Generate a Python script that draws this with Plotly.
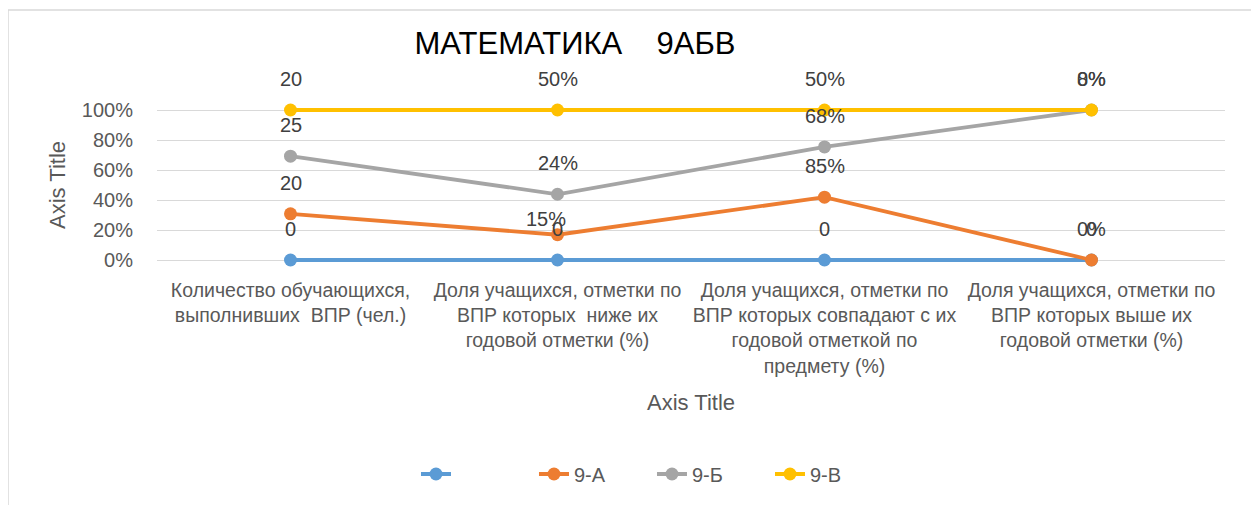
import numpy as np
import plotly.graph_objects as go

# ---------------- data ----------------
categories = [
    "Количество обучающихся,<br>выполнивших  ВПР (чел.)",
    "Доля учащихся, отметки по<br>ВПР которых  ниже их<br>годовой отметки (%)",
    "Доля учащихся, отметки по<br>ВПР которых совпадают с их<br>годовой отметкой по<br>предмету (%)",
    "Доля учащихся, отметки по<br>ВПР которых выше их<br>годовой отметки (%)",
]
series_names = ["", "9-А", "9-Б", "9-В"]
values_blank = [0, 0, 0, 0]
values_9a = [20, 15, 85, 0]
values_9b = [25, 24, 68, 8]
values_9v = [20, 50, 50, 0]
y_ticks = [0, 20, 40, 60, 80, 100]
y_tick_labels = ["0%", "20%", "40%", "60%", "80%", "100%"]

# ---------------- styles ----------------
colors = ["#5B9BD5", "#ED7D31", "#A5A5A5", "#FFC000"]
FONT = "Liberation Sans"
label_shift = {(1, 1): (-12, 16)}  # (series, category) -> (xshift, yshift)
default_shift = (0, 31)

all_values = np.array([values_blank, values_9a, values_9b, values_9v], dtype=float)
totals = all_values.sum(axis=0)
cum_pct = np.cumsum(all_values, axis=0) / totals * 100.0
x_idx = list(range(len(categories)))

fig = go.Figure()
for s, name in enumerate(series_names):
    fig.add_trace(go.Scatter(
        x=x_idx, y=cum_pct[s], name=name, mode="lines+markers",
        line=dict(color=colors[s], width=3.8),
        marker=dict(color=colors[s], size=13),
        cliponaxis=False, showlegend=True,
    ))

annotations = []
for s in range(len(series_names)):
    for c in x_idx:
        v = int(all_values[s, c])
        if s == 0 or c == 0:
            txt = f"{v}"
        else:
            txt = f"{v}%"
        xs, ys = label_shift.get((s, c), default_shift)
        annotations.append(dict(
            x=c, y=cum_pct[s, c], xref="x", yref="y", text=txt, showarrow=False,
            xshift=xs, yshift=ys, yanchor="middle", xanchor="center",
            font=dict(family=FONT, size=20, color="#404040"),
        ))

fig.update_layout(
    width=1259, height=505,
    margin=dict(l=149, r=42, t=99, b=250),
    paper_bgcolor="white", plot_bgcolor="white",
    font=dict(family=FONT, color="#595959"),
    title=dict(text="МАТЕМАТИКА\u00a0\u00a0\u00a0\u00a09АБВ", x=567 / 1259, xref="container",
               xanchor="center", y=1 - 35 / 505, yref="container", yanchor="middle",
               font=dict(family=FONT, size=31, color="#000000")),
    annotations=annotations,
    legend=dict(orientation="h", x=0.2425, xanchor="left", y=-1.3526, yanchor="middle",
                font=dict(family=FONT, size=20, color="#595959"),
                entrywidth=73, entrywidthmode="pixels", traceorder="normal"),
    shapes=[dict(type="rect", xref="paper", yref="paper", x0=-0.1395, x1=1.0262,
                 y0=-2.2, y1=1.6218, line=dict(color="#d9d9d9", width=1.5),
                 fillcolor="rgba(0,0,0,0)", layer="below")],
)
fig.update_xaxes(
    range=[-0.5, 3.5], tickvals=x_idx, ticktext=categories, showgrid=False,
    zeroline=False, showline=False, ticks="", ticklabelstandoff=13,
    tickfont=dict(family=FONT, size=19.5, color="#595959"),
    title=dict(text="Axis Title", standoff=19, font=dict(family=FONT, size=22, color="#595959")),
)
fig.update_yaxes(
    range=[-2, 102], tickvals=y_ticks, ticktext=y_tick_labels, showgrid=True, gridcolor="#d9d9d9",
    gridwidth=1, zeroline=False, showline=False, ticks="", ticklabelstandoff=23,
    tickfont=dict(family=FONT, size=20, color="#595959"),
    title=dict(text="Axis Title", standoff=10, font=dict(family=FONT, size=22, color="#595959")),
)

fig.write_html("out.html")
